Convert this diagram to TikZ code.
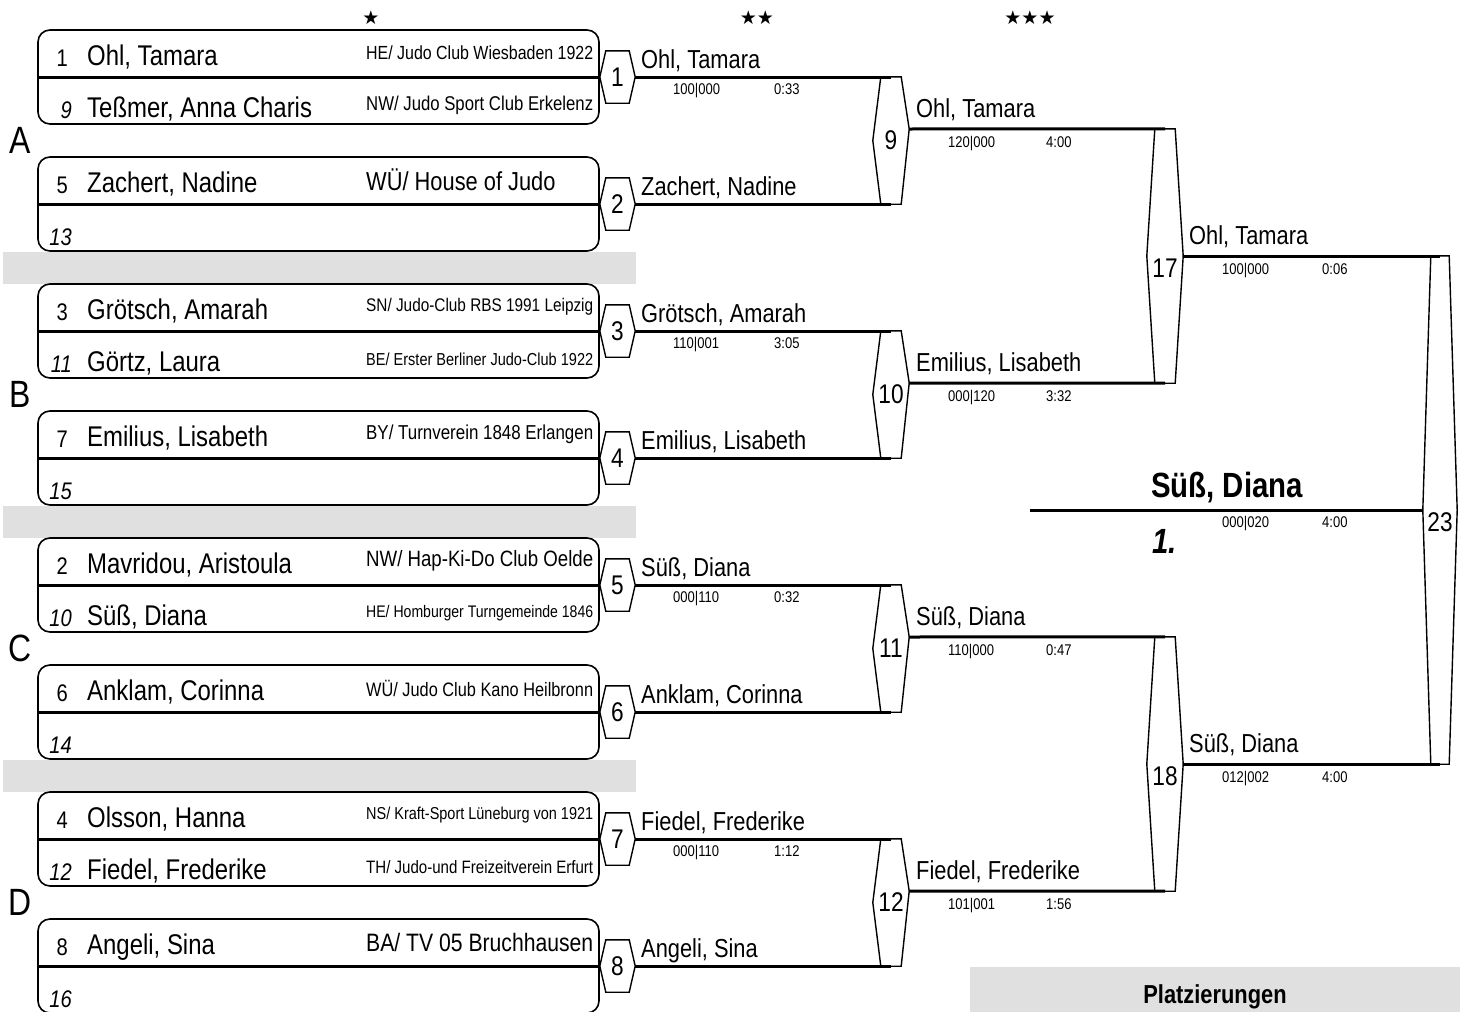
\documentclass[tikz,border=0pt]{standalone}
\usepackage{fontspec}
\usepackage{graphicx}
\setmainfont[FakeStretch=0.84]{Liberation Sans}
\newfontfamily\StarFont{DejaVu Sans}
\definecolor{BracketInk}{gray}{0}
\definecolor{BarShade}{gray}{0.88}
\newcommand{\NameSize}{\fontsize{28.5}{32}\selectfont}
\newcommand{\SeedSize}{\fontsize{24}{27}\selectfont}
\newcommand{\WinSize}{\fontsize{26}{30}\selectfont}
\newcommand{\ScoreSize}{\fontsize{15.5}{17}\selectfont}
\newcommand{\PoolSize}{\fontsize{38}{42}\selectfont}
\newcommand{\ChampSize}{\fontsize{35}{39}\selectfont}
\newsavebox{\ClubBox}
\newcommand{\ClubText}[1]{%
  \sbox{\ClubBox}{\fontsize{26}{29}\selectfont #1}%
  \ifdim\wd\ClubBox>227pt\resizebox{227pt}{!}{\usebox{\ClubBox}}\else\usebox{\ClubBox}\fi
}
\newcommand{\LowNumber}[1]{\raisebox{-21pt}[0pt][0pt]{#1}}
\tikzset{
  bracketfig/.style={x=1pt,y=-1pt,text=BracketInk,draw=BracketInk},
  entrybox/.style={draw,line width=1.6pt,rounded corners=12pt,minimum width=561pt,minimum height=94pt,inner sep=0pt},
  divider/.style={line width=3pt},
  result/.style={line width=3pt},
  hexline/.style={line width=1.4pt,line join=miter},
  matchbox/.style={inner sep=0pt,font=\fontsize{27}{30}\selectfont},
  firstround/.style={matchbox,minimum width=35pt,minimum height=52pt},
  secondround/.style={matchbox,minimum width=36pt,minimum height=127pt},
  thirdround/.style={matchbox,minimum width=36pt,minimum height=254pt},
  finalround/.style={matchbox,minimum width=34pt,minimum height=508pt},
  seed/.style={anchor=base east,inner sep=0pt,font=\SeedSize},
  entrant/.style={anchor=base west,inner sep=0pt,font=\NameSize},
  club/.style={anchor=west,inner sep=0pt},
  winner/.style={anchor=base west,inner sep=0pt,font=\WinSize},
  score/.style={anchor=base west,inner sep=0pt,font=\ScoreSize},
  pool/.style={inner sep=0pt,font=\PoolSize},
  stars/.style={inner sep=0pt,font=\StarFont\fontsize{19}{21}\selectfont},
  shadebar/.style={fill=BarShade,draw=none},
}
\newcommand{\MatchHex}[3]{%
  \draw[hexline] (#1.west) -- ([xshift=#2]#1.north west) -- ([xshift=-#2]#1.north east)
    -- ([yshift=#3]#1.east) -- ([xshift=-#2]#1.south east) -- ([xshift=#2]#1.south west) -- cycle;
}
\newcommand{\EntryPair}[8]{%
  \node[entrybox] (#1) at (318.5,#2) {};
  \draw[divider] (#1.west) -- (#1.east);
  \node[seed] (#1-s1) at (68,{#2-11}) {#3};
  \node[entrant] (#1-n1) at (87,{#2-12}) {#4};
  \node[club] (#1-c1) at (366,{#2-24}) {\ClubText{#5}};
  \node[seed,font=\SeedSize\itshape] (#1-s2) at (72,{#2+41}) {#6};
  \node[entrant] (#1-n2) at (87,{#2+40}) {#7};
  \node[club] (#1-c2) at (366,{#2+28}) {\ClubText{#8}};
}
\newcommand{\ByePair}[6]{%
  \node[entrybox] (#1) at (318.5,#2) {};
  \draw[divider] (#1.west) -- (#1.east);
  \node[seed] (#1-s1) at (68,{#2-11}) {#3};
  \node[entrant] (#1-n1) at (87,{#2-12}) {#4};
  \node[club] (#1-c1) at (366,{#2-24}) {\ClubText{#5}};
  \node[seed,font=\SeedSize\itshape] (#1-s2) at (72,{#2+41}) {#6};
}

\begin{document}
\begin{tikzpicture}[bracketfig]
  \useasboundingbox (0,0) rectangle (1462,1012);

  \node[stars] (star1) at (371,18) {★};
  \node[stars] (star2) at (757,18) {★★};
  \node[stars] (star3) at (1030,18) {★★★};

  \fill[shadebar] (3,252) rectangle (636,284);
  \fill[shadebar] (3,506) rectangle (636,538);
  \fill[shadebar] (3,760) rectangle (636,792);

  \EntryPair{boxA1}{77}{1}{Ohl, Tamara}{HE/ Judo Club Wiesbaden 1922}{9}{Teßmer, Anna Charis}{NW/ Judo Sport Club Erkelenz}
  \ByePair{boxA2}{204}{5}{Zachert, Nadine}{WÜ/ House of Judo}{13}
  \EntryPair{boxB1}{331}{3}{Grötsch, Amarah}{SN/ Judo-Club RBS 1991 Leipzig}{11}{Görtz, Laura}{BE/ Erster Berliner Judo-Club 1922}
  \ByePair{boxB2}{458}{7}{Emilius, Lisabeth}{BY/ Turnverein 1848 Erlangen}{15}
  \EntryPair{boxC1}{585}{2}{Mavridou, Aristoula}{NW/ Hap-Ki-Do Club Oelde}{10}{Süß, Diana}{HE/ Homburger Turngemeinde 1846}
  \ByePair{boxC2}{712}{6}{Anklam, Corinna}{WÜ/ Judo Club Kano Heilbronn}{14}
  \EntryPair{boxD1}{839}{4}{Olsson, Hanna}{NS/ Kraft-Sport Lüneburg von 1921}{12}{Fiedel, Frederike}{TH/ Judo-und Freizeitverein Erfurt}
  \ByePair{boxD2}{966}{8}{Angeli, Sina}{BA/ TV 05 Bruchhausen}{16}

  \node[pool] (poolA) at (20,140.5) {A};
  \node[pool] (poolB) at (20,394.5) {B};
  \node[pool] (poolC) at (20,648.5) {C};
  \node[pool] (poolD) at (20,902.5) {D};

  % first round
  \node[firstround] (m1) at (617.5,77) {1};
  \node[firstround] (m2) at (617.5,204) {2};
  \node[firstround] (m3) at (617.5,331) {3};
  \node[firstround] (m4) at (617.5,458) {4};
  \node[firstround] (m5) at (617.5,585) {5};
  \node[firstround] (m6) at (617.5,712) {6};
  \node[firstround] (m7) at (617.5,839) {7};
  \node[firstround] (m8) at (617.5,966) {8};
  \MatchHex{m1}{6pt}{0pt}\MatchHex{m2}{6pt}{0pt}\MatchHex{m3}{6pt}{0pt}\MatchHex{m4}{6pt}{0pt}
  \MatchHex{m5}{6pt}{0pt}\MatchHex{m6}{6pt}{0pt}\MatchHex{m7}{6pt}{0pt}\MatchHex{m8}{6pt}{0pt}

  % second round
  \node[secondround] (m9) at (891,140.5) {9};
  \node[secondround] (m10) at (891,394.5) {10};
  \node[secondround] (m11) at (891,648.5) {11};
  \node[secondround] (m12) at (891,902.5) {12};
  \MatchHex{m9}{8pt}{11.5pt}\MatchHex{m10}{8pt}{11.5pt}\MatchHex{m11}{8pt}{11.5pt}\MatchHex{m12}{8pt}{11.5pt}

  \draw[result] (m1.east) -- (m1.east -| m9.north);
  \draw[result] (m2.east) -- (m2.east -| m9.south);
  \draw[result] (m3.east) -- (m3.east -| m10.north);
  \draw[result] (m4.east) -- (m4.east -| m10.south);
  \draw[result] (m5.east) -- (m5.east -| m11.north);
  \draw[result] (m6.east) -- (m6.east -| m11.south);
  \draw[result] (m7.east) -- (m7.east -| m12.north);
  \draw[result] (m8.east) -- (m8.east -| m12.south);

  \node[winner] (w1) at (641,68) {Ohl, Tamara};
  \node[score] (p1) at (673,94) {100|000};
  \node[score] (t1) at (774,94) {0:33};
  \node[winner] (w2) at (641,195) {Zachert, Nadine};
  \node[winner] (w3) at (641,322) {Grötsch, Amarah};
  \node[score] (p3) at (673,348) {110|001};
  \node[score] (t3) at (774,348) {3:05};
  \node[winner] (w4) at (641,449) {Emilius, Lisabeth};
  \node[winner] (w5) at (641,576) {Süß, Diana};
  \node[score] (p5) at (673,602) {000|110};
  \node[score] (t5) at (774,602) {0:32};
  \node[winner] (w6) at (641,703) {Anklam, Corinna};
  \node[winner] (w7) at (641,830) {Fiedel, Frederike};
  \node[score] (p7) at (673,856) {000|110};
  \node[score] (t7) at (774,856) {1:12};
  \node[winner] (w8) at (641,957) {Angeli, Sina};

  % third round
  \node[thirdround] (m17) at (1165,256) {\LowNumber{17}};
  \node[thirdround] (m18) at (1165,764) {\LowNumber{18}};
  \MatchHex{m17}{8pt}{0pt}\MatchHex{m18}{8pt}{0pt}

  \draw[result] ([yshift=11.5pt]m9.east) -- (m17.north);
  \draw[result] ([yshift=11.5pt]m10.east) -- (m17.south);
  \draw[result] ([yshift=11.5pt]m11.east) -- (m18.north);
  \draw[result] ([yshift=11.5pt]m12.east) -- (m18.south);

  \node[winner] (w9) at (916,117) {Ohl, Tamara};
  \node[score] (p9) at (948,147) {120|000};
  \node[score] (t9) at (1046,147) {4:00};
  \node[winner] (w10) at (916,371) {Emilius, Lisabeth};
  \node[score] (p10) at (948,401) {000|120};
  \node[score] (t10) at (1046,401) {3:32};
  \node[winner] (w11) at (916,625) {Süß, Diana};
  \node[score] (p11) at (948,655) {110|000};
  \node[score] (t11) at (1046,655) {0:47};
  \node[winner] (w12) at (916,879) {Fiedel, Frederike};
  \node[score] (p12) at (948,909) {101|001};
  \node[score] (t12) at (1046,909) {1:56};

  % final
  \node[finalround] (m23) at (1440,510) {\LowNumber{23}};
  \MatchHex{m23}{8pt}{0pt}
  \draw[result] (m17.east) -- (m17.east -| m23.north);
  \draw[result] (m18.east) -- (m18.east -| m23.south);
  \coordinate (podium) at (1030,510);
  \draw[result] (m23.west) -- (podium);

  \node[winner] (w17) at (1189,244) {Ohl, Tamara};
  \node[score] (p17) at (1222,274) {100|000};
  \node[score] (t17) at (1322,274) {0:06};
  \node[winner] (w18) at (1189,752) {Süß, Diana};
  \node[score] (p18) at (1222,782) {012|002};
  \node[score] (t18) at (1322,782) {4:00};

  \node[anchor=base,inner sep=0pt,font=\ChampSize\bfseries] (champ) at (1227,497) {Süß, Diana};
  \node[score] (p23) at (1222,527) {000|020};
  \node[score] (t23) at (1322,527) {4:00};
  \node[anchor=base west,inner sep=0pt,font=\ChampSize\bfseries\itshape] (rank1) at (1152,553) {1.};

  \node[shadebar,minimum width=490pt,minimum height=45pt,inner sep=0pt] (placingsbar) at (1215,989.5) {};
  \node[anchor=base,inner sep=0pt,font=\WinSize\bfseries] (placings) at (1215,1003) {Platzierungen};
\end{tikzpicture}
\end{document}
